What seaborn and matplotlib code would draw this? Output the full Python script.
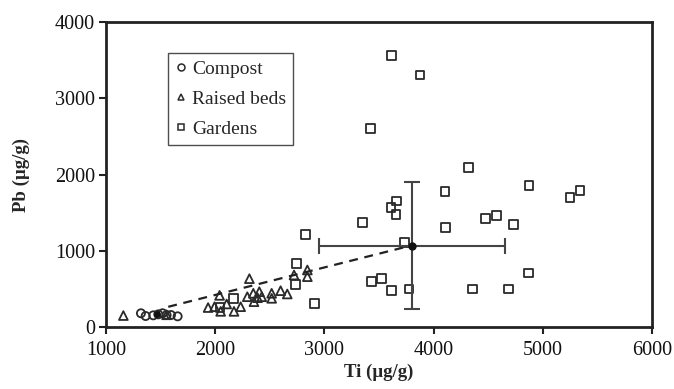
import numpy as np
import pandas as pd
import matplotlib
matplotlib.use("Agg")
import matplotlib.pyplot as plt
import seaborn as sns

# ---- data ----
compost_ti = [1320, 1363, 1433, 1479, 1518, 1555, 1595, 1656]
compost_pb = [180, 144, 153, 166, 180, 157, 157, 140]

raised_ti = [1159, 1555, 1935, 1994, 2040, 2050, 2105, 2172, 2233, 2294, 2349, 2404,
             2355, 2426, 2388, 2517, 2517, 2599, 2660, 2313, 2722, 2844, 2844]
raised_pb = [150, 160, 255, 266, 415, 205, 302, 205, 266, 397, 442, 463,
             332, 397, 384, 442, 376, 476, 433, 634, 682, 748, 660]

garden_ti = [3616, 3875, 3420, 4318, 4104, 4110, 3659, 3610, 3656, 3347, 3735, 3430,
             3524, 3613, 3775, 4357, 4874, 5249, 5341, 4477, 4574, 4730, 4870, 4688,
             2745, 2736, 2907, 2166, 2044, 2829]
garden_pb = [3558, 3305, 2601, 2094, 1780, 1302, 1652, 1570, 1473, 1368, 1106, 594,
             634, 481, 498, 498, 1853, 1701, 1788, 1425, 1465, 1347, 708, 498,
             830, 555, 311, 376, 258, 1215]

line_ti = [1570, 3800]
line_pb = [265, 1070]

mean_ti, mean_pb = 3800, 1066
sd_ti, sd_pb = 852, 832

x_ticks = [1000, 2000, 3000, 4000, 5000, 6000]
y_ticks = [0, 1000, 2000, 3000, 4000]

# ---- plot ----
sns.set_theme(style="white")
plt.rcParams['font.family'] = ['Liberation Serif', 'DejaVu Serif']

fig = plt.figure(figsize=(6.74, 3.89), dpi=100)
ax = fig.add_axes([106/674, 1-327/389, 546/674, 305/389])

df = pd.concat([
    pd.DataFrame({"Ti": compost_ti, "Pb": compost_pb, "grp": "Compost"}),
    pd.DataFrame({"Ti": raised_ti, "Pb": raised_pb, "grp": "Raised beds"}),
    pd.DataFrame({"Ti": garden_ti, "Pb": garden_pb, "grp": "Gardens"}),
])

ec = "#2a2a2a"
marks = {"Compost": ("o", 34), "Raised beds": ("^", 40), "Gardens": ("s", 38)}
for g, (m, s) in marks.items():
    sub = df[df.grp == g]
    sns.scatterplot(data=sub, x="Ti", y="Pb", marker=m, s=s, ax=ax,
                    color="none", edgecolor=ec, linewidth=1.3, legend=False)
for c in ax.collections:
    c.set_facecolor("none")
    c.set_edgecolor(ec)

sns.lineplot(x=line_ti, y=line_pb, ax=ax, color="#222222", linestyle=(0, (4, 3)),
             linewidth=1.6, legend=False)
ax.plot([1470], [170], marker="o", color="#111111", markersize=4)

ax.errorbar([mean_ti], [mean_pb], xerr=[sd_ti], yerr=[sd_pb], fmt="o",
            color="#111111", ecolor="#444444", elinewidth=1.5, capsize=6,
            capthick=1.5, markersize=5, zorder=5)

# legend
from matplotlib.lines import Line2D
handles = [Line2D([], [], marker=m, linestyle="none", markerfacecolor="none",
                  markeredgecolor=ec, markersize=5, markeredgewidth=1.1)
           for m in ["o", "^", "s"]]
leg = ax.legend(handles, ["Compost", "Raised beds", "Gardens"], loc="upper left",
                bbox_to_anchor=(0.1136, 0.898), borderaxespad=0, frameon=True,
                fancybox=False, fontsize=14, handlelength=0.6, handletextpad=0.3,
                labelspacing=0.65, borderpad=0.35)
leg.get_frame().set_edgecolor("#222222")
leg.get_frame().set_linewidth(1.0)

ax.set_xlim(1000, 6000)
ax.set_ylim(0, 4000)
ax.set_xticks(x_ticks)
ax.set_yticks(y_ticks)
ax.tick_params(axis="both", labelsize=14.5, direction="out", length=5, width=1.5,
               colors="#222222", labelcolor="#111111",
               bottom=True, left=True)
ax.tick_params(axis="x", pad=5)
ax.tick_params(axis="y", pad=3)
for sp in ax.spines.values():
    sp.set_visible(True)
    sp.set_color("#222222")
    sp.set_linewidth(2)

ax.set_xlabel("Ti (\u00b5g/g)", fontsize=13.5, fontweight="bold", labelpad=3)
ax.set_ylabel("Pb (\u00b5g/g)", fontsize=13.5, fontweight="bold", labelpad=18)

fig.savefig("out.png", dpi=100)
